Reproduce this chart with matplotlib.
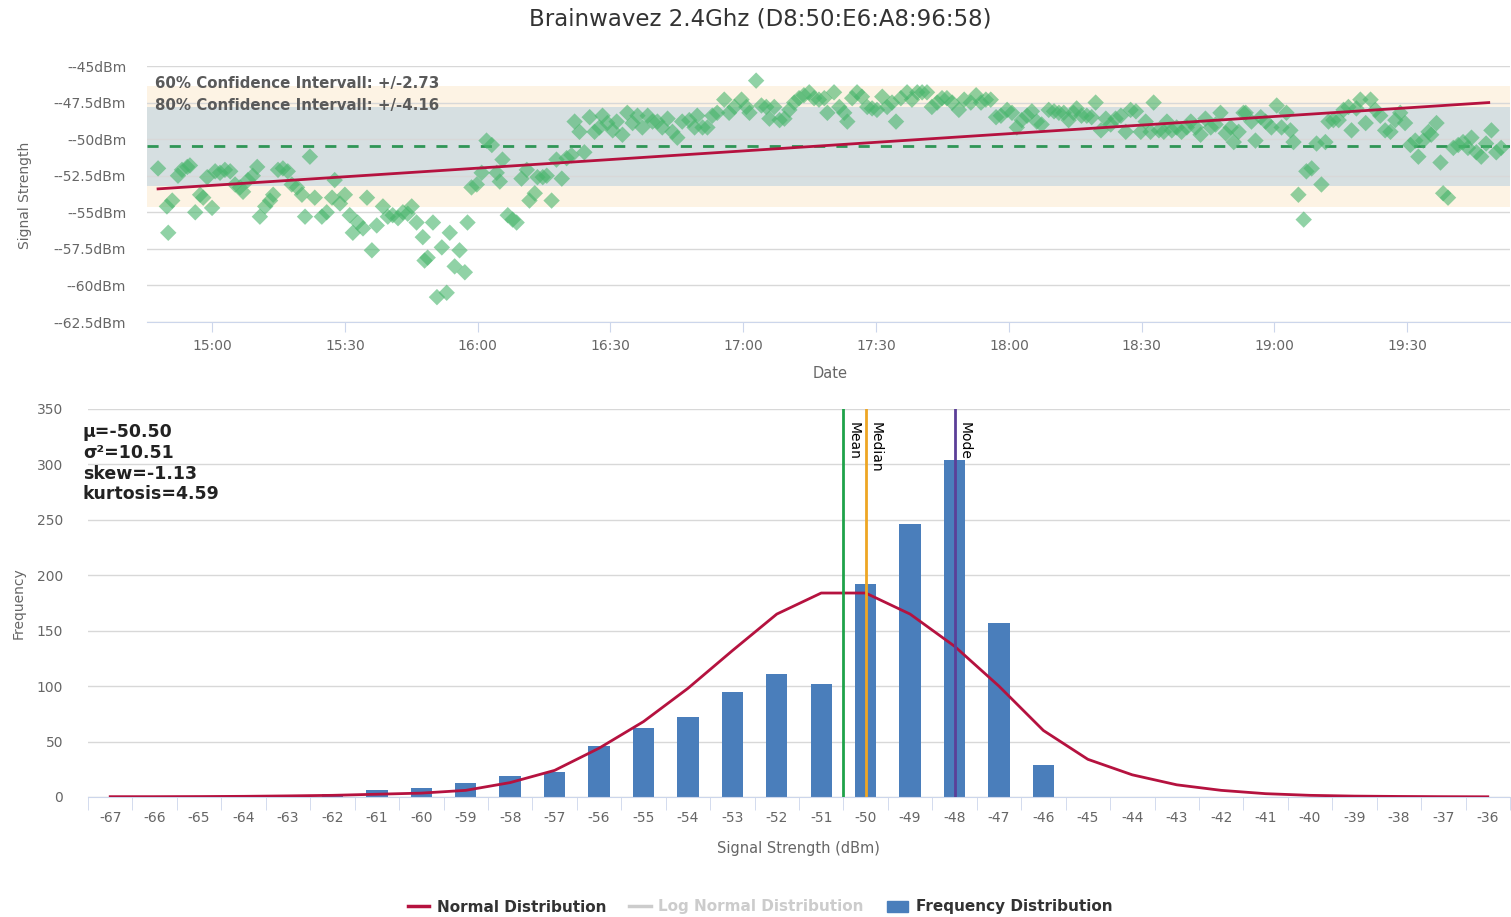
import numpy as np
import matplotlib.pyplot as plt
import matplotlib.dates as mdates
from matplotlib.ticker import FuncFormatter
from matplotlib.lines import Line2D
from matplotlib.patches import Patch

plt.rcParams['font.family'] = ['DejaVu Sans']

W, H = 1511, 917

title = 'Brainwavez 2.4Ghz (D8:50:E6:A8:96:58)'

# signal samples: minutes after 15:00 and signal strength in dBm
sample_minutes = [
    -12.2, -10.2, -9.9, -9.0, -7.7, -6.8, -5.6, -5.0, -3.8, -2.7, -2.0, -1.1, 0.0, 0.7, 1.8,
    2.9, 4.1, 5.2, 6.3, 7.0, 8.1, 9.2, 10.2, 10.8, 12.0, 13.1, 13.8, 14.9, 16.0, 17.1,
    18.0, 19.2, 20.3, 21.0, 22.1, 23.2, 24.8, 25.9, 27.1, 27.7, 28.9, 30.0, 31.1, 31.8, 32.9,
    34.1, 35.0, 36.1, 37.2, 38.6, 39.7, 40.8, 42.0, 43.1, 44.2, 45.1, 46.2, 47.6, 48.0,
    48.7, 49.9, 50.8, 51.9, 53.0, 53.7, 54.8, 55.9, 57.1, 57.7, 58.6, 59.8, 60.9, 62.0, 63.2,
    64.3, 65.0, 65.6, 66.8, 67.9, 68.8, 69.9, 71.1, 71.7, 72.9, 73.5, 74.7, 75.6, 76.7, 77.8,
    79.0, 80.1, 81.2, 81.9, 83.0, 84.1, 85.3, 86.4, 87.5, 88.2, 89.3, 90.5, 91.4, 92.7, 93.8,
    95.0, 96.1, 97.2, 98.4, 99.5, 100.6, 101.7, 102.9, 104.0, 105.1, 106.2, 107.8, 109.0,
    109.6, 110.8, 111.9, 113.0, 114.1, 115.7, 116.8, 118.0, 119.6, 120.7, 121.4, 122.9, 124.1,
    125.2, 125.9, 127.0, 128.2, 129.3, 130.4, 131.5, 132.6, 133.7, 134.9, 136.0, 137.1, 138.3,
    139.0, 140.5, 141.7, 142.8, 143.5, 144.6, 145.7, 146.8, 148.0, 149.1, 150.2, 151.4, 152.5,
    153.6, 154.5, 155.6, 157.0, 158.1, 159.3, 160.4, 161.5, 162.6, 163.8, 164.9, 166.0, 167.2,
    168.7, 169.9, 171.4,
    172.6, 173.7, 174.8, 175.9, 177.1, 178.2, 179.6, 180.7, 181.8, 182.9, 184.1, 185.2, 186.3,
    187.4, 189.0, 190.2, 191.3, 192.4, 193.5, 194.6, 195.3, 196.4, 197.6, 198.7, 199.6, 200.8,
    201.9, 203.0, 204.1, 205.3, 206.4, 207.5, 208.7, 209.8, 210.9, 212.0, 212.7, 213.9, 215.0,
    215.7, 216.8, 217.9, 219.0, 220.2, 221.1, 222.2, 223.3, 224.4, 225.6, 226.7, 227.8, 229.0,
    230.1, 230.8, 231.9, 233.0,
    233.5, 234.8, 235.7, 236.9, 238.0, 239.3, 240.5, 241.6, 242.7, 243.6, 244.3, 245.4, 246.6,
    247.2, 248.4, 249.5, 250.6, 251.5, 252.2, 253.3, 254.5, 255.6, 256.7, 257.4, 258.5, 259.4,
    260.6, 261.7, 262.8, 263.9, 265.0, 266.2, 267.3, 268.4, 269.5, 270.7, 271.8, 272.5, 273.6,
    274.8, 275.4, 276.6, 277.5, 278.1, 279.2, 280.4, 281.5, 282.6, 283.7, 284.5, 285.6, 286.7,
    287.8, 289.0, 290.1, 291.2,
]
sample_dbm = [
    -52.0, -54.6, -56.4, -54.2, -52.5, -52.1, -51.9, -51.8, -55.0, -53.8, -54.0, -52.6, -54.7, -52.2, -52.3,
    -52.1, -52.2, -53.1, -53.3, -53.6, -52.8, -52.5, -51.9, -55.3, -54.6, -54.2, -53.8, -52.1, -52.0, -52.2,
    -53.1, -53.3, -53.8, -55.3, -51.2, -54.0, -55.3, -55.0, -54.0, -52.8, -54.4, -53.8, -55.2, -56.4, -55.7,
    -56.1, -54.0, -57.6, -55.9, -54.6, -55.3, -55.2, -55.4, -55.0, -55.1, -54.6, -55.7, -56.7, -58.3,
    -58.1, -55.7, -60.8, -57.4, -60.5, -56.4, -58.7, -57.6, -59.1, -55.7, -53.3, -53.1, -52.3, -50.1, -50.4,
    -52.3, -52.9, -51.4, -55.2, -55.5, -55.7, -52.7, -52.1, -54.2, -53.7, -52.6, -52.6, -52.5, -54.2, -51.4,
    -52.7, -51.3, -51.1, -48.8, -49.5, -50.9, -48.5, -49.5, -49.2, -48.4, -48.9, -49.4, -48.8, -49.7, -48.2,
    -48.9, -48.4, -49.2, -48.4, -48.8, -48.8, -49.2, -48.6, -49.5, -49.9, -48.8, -48.7, -49.2,
    -48.4, -49.2, -49.2, -48.4, -48.2, -47.3, -48.2, -47.8, -47.3, -47.8, -48.2, -46.0, -47.7,
    -47.8, -48.6, -47.8, -48.7, -48.6, -48.0, -47.5, -47.2, -47.0, -46.8, -47.2, -47.3, -47.2,
    -48.2, -46.8, -47.8, -48.2, -48.8, -47.2, -46.8, -47.1, -47.8, -47.9, -48.0, -47.1, -47.8,
    -47.5, -48.8, -47.2, -46.8, -47.3, -46.8, -46.8, -46.8, -47.8, -47.5, -47.2, -47.2, -47.5,
    -48.0, -47.3, -47.5,
    -47.0, -47.5, -47.3, -47.3, -48.5, -48.4, -48.0, -48.2, -49.2, -48.7, -48.4, -48.1, -48.8,
    -49.0, -48.0, -48.1, -48.2, -48.2, -48.7, -48.2, -47.9, -48.4, -48.4, -48.5, -47.5, -49.4,
    -48.6, -49.0, -48.6, -48.4, -49.5, -48.0, -48.1, -49.5, -48.8, -49.5, -47.5, -49.4, -49.5,
    -48.8, -49.4, -49.2, -49.5, -49.2, -48.8, -49.2, -49.7, -48.6, -49.2, -49.0, -48.2, -49.6,
    -49.2, -50.2, -49.5, -48.2,
    -48.2, -48.8, -50.1, -48.5, -48.8, -49.2, -47.7, -49.2, -48.2, -49.4, -50.2, -53.8, -55.5,
    -52.2, -52.0, -50.3, -53.1, -50.2, -48.8, -48.7, -48.7, -48.0, -47.8, -49.4, -47.9, -47.3,
    -48.9, -47.3, -48.0, -48.4, -49.4, -49.5, -48.7, -48.2, -48.9, -50.4, -50.1, -51.2, -50.1,
    -49.5, -49.7, -48.9, -51.6, -53.7, -54.0, -50.6, -50.4, -50.2, -50.6, -49.9, -50.9, -51.2,
    -50.3, -49.4, -50.9, -50.6,
]

mean_dbm = -50.50
ci60 = 2.73
ci80 = 4.16
trend_minutes = [-12.2, 288.4]
trend_dbm = [-53.4, -47.5]

# histogram
bins = list(range(-67, -35))
frequency = [0, 0, 0, 0, 1, 3, 6, 8, 13, 19, 23, 46, 62, 72, 95, 111,
             102, 192, 246, 304, 157, 29, 0, 0, 0, 0, 0, 0, 0, 0, 0, 0]
normal_fit = [0.3, 0.3, 0.4, 0.6, 1.0, 1.5, 2.5, 3.5, 6, 13, 24, 44, 68, 98, 132, 165,
              184, 184, 165, 136, 100, 60, 34, 20, 11, 6, 3, 1.5, 0.8, 0.5, 0.3, 0.2]
median_dbm = -50
mode_dbm = -48
variance = 10.51
skew = -1.13
kurtosis = 4.59

red = '#b5123f'
blue = '#4a7ebb'
axis_col = '#ccd6eb'
grid_col = '#d8d8d8'
label_col = '#666666'


def fx(px):
    return px / W


def fy(py):
    return 1 - py / H


fig = plt.figure(figsize=(W / 100, H / 100), dpi=100)

# ---- top: signal over time
ax1 = fig.add_axes([fx(147), fy(322), fx(1510) - fx(147), (322 - 66) / H])
base = np.datetime64('2017-01-01T15:00:00')
def to_time(mins):
    return base + np.round(np.array(mins) * 60).astype(int).astype('timedelta64[s]')

times = to_time(sample_minutes)
ax1.axhspan(mean_dbm - ci80, mean_dbm + ci80, color='#fdf3e4', zorder=0.1, lw=0)
ax1.axhspan(mean_dbm - ci60, mean_dbm + ci60, color='#d6dfe1', zorder=0.2, lw=0)
ax1.set_axisbelow(True)
ax1.grid(axis='y', color=grid_col, lw=1)
ax1.axhline(mean_dbm, color='#2f9656', lw=2, dashes=(4, 4), zorder=2)
ax1.scatter(times, sample_dbm, marker='D', s=70, color='#47b56b', alpha=0.6,
            edgecolors='none', zorder=3)
ax1.plot(to_time(trend_minutes), trend_dbm, color=red, lw=2, zorder=4)
ax1.set_xlim(to_time([-14.7])[0], to_time([293.2])[0])
ax1.set_ylim(-62.5, -45)
ax1.set_yticks(np.arange(-62.5, -44, 2.5))
# the original chart prints a doubled minus sign in front of the value
ax1.yaxis.set_major_formatter(FuncFormatter(lambda v, p: '-' + f'{v:g}dBm'))
ax1.xaxis.set_major_locator(mdates.MinuteLocator(byminute=[0, 30]))
ax1.xaxis.set_major_formatter(mdates.DateFormatter('%H:%M'))
for s in ['top', 'right', 'left']:
    ax1.spines[s].set_visible(False)
ax1.spines['bottom'].set_color(axis_col)
ax1.tick_params(axis='y', length=0, pad=15, labelsize=10, labelcolor=label_col)
ax1.tick_params(axis='x', length=7, color=axis_col, pad=5, labelsize=10, labelcolor=label_col)

ax1.text(0.006, 0.93, f'60% Confidence Intervall: +/-{ci60:.2f}', transform=ax1.transAxes,
         fontsize=10.8, fontweight='bold', color='#5a5a5a', va='center', zorder=5)
ax1.text(0.006, 0.845, f'80% Confidence Intervall: +/-{ci80:.2f}', transform=ax1.transAxes,
         fontsize=10.8, fontweight='bold', color='#5a5a5a', va='center', zorder=5)

fig.text(fx(25), fy(195), 'Signal Strength', rotation=90, ha='center', va='center',
         fontsize=10, color=label_col)
fig.text(fx(830), fy(373), 'Date', ha='center', va='center', fontsize=10.5, color=label_col)

# ---- bottom: histogram
ax2 = fig.add_axes([fx(88), fy(797), fx(1510) - fx(88), (797 - 409) / H])
ax2.set_axisbelow(True)
ax2.grid(axis='y', color=grid_col, lw=1)
ax2.bar(bins, frequency, width=0.48, color=blue, zorder=2)
ax2.plot(bins, normal_fit, color=red, lw=2, zorder=3)
ax2.axvline(mean_dbm, color='#1fa24a', lw=2, zorder=4)
ax2.axvline(median_dbm, color='#eea624', lw=2, zorder=4)
ax2.axvline(mode_dbm, color='#5b3f98', lw=2, zorder=4)
for xv, name in [(mean_dbm, 'Mean'), (median_dbm, 'Median'), (mode_dbm, 'Mode')]:
    ax2.annotate(name, (xv, 350), xytext=(2, -9), textcoords='offset points',
                 rotation=-90, ha='left', va='top', fontsize=10, zorder=5)
ax2.set_xlim(bins[0] - 0.5, bins[-1] + 0.5)
ax2.set_ylim(0, 350)
ax2.set_yticks(np.arange(0, 351, 50))
ax2.set_xticks(bins)
ax2.set_xticklabels([str(b) for b in bins])
ax2.set_xticks(np.arange(bins[0] - 0.5, bins[-1] + 1, 1), minor=True)
for s in ['top', 'right', 'left']:
    ax2.spines[s].set_visible(False)
ax2.spines['bottom'].set_color(axis_col)
ax2.tick_params(axis='y', length=0, pad=18, labelsize=10, labelcolor=label_col)
ax2.tick_params(axis='x', which='major', length=0, pad=10, labelsize=10, labelcolor=label_col)
ax2.tick_params(axis='x', which='minor', length=9, color=axis_col)

stats = (f'\u03bc={mean_dbm:.2f}\n\u03c3\u00b2={variance:.2f}\n'
         f'skew={skew:.2f}\nkurtosis={kurtosis:.2f}')
fig.text(fx(83), fy(423), stats, ha='left', va='top', fontsize=12.5, fontweight='bold',
         linespacing=1.2, color='#222222')

fig.text(fx(19), fy(603), 'Frequency', rotation=90, ha='center', va='center',
         fontsize=10, color=label_col)
fig.text(fx(798), fy(848), 'Signal Strength (dBm)', ha='center', va='center',
         fontsize=10.5, color=label_col)

fig.text(fx(760), fy(19), title, ha='center', va='center', fontsize=16.5, color='#333333')

handles = [Line2D([], [], color=red, lw=2.5),
           Line2D([], [], color='#cccccc', lw=2.5),
           Patch(color=blue)]
leg = fig.legend(handles, ['Normal Distribution', 'Log Normal Distribution', 'Frequency Distribution'],
                 loc='center', bbox_to_anchor=(fx(760), fy(907)), ncol=3, frameon=False,
                 prop={'weight': 'bold', 'size': 11}, handlelength=1.4, columnspacing=1.5,
                 handletextpad=0.5)
for t, c in zip(leg.get_texts(), ['#333333', '#cccccc', '#333333']):
    t.set_color(c)

fig.savefig('out.png', dpi=100)
